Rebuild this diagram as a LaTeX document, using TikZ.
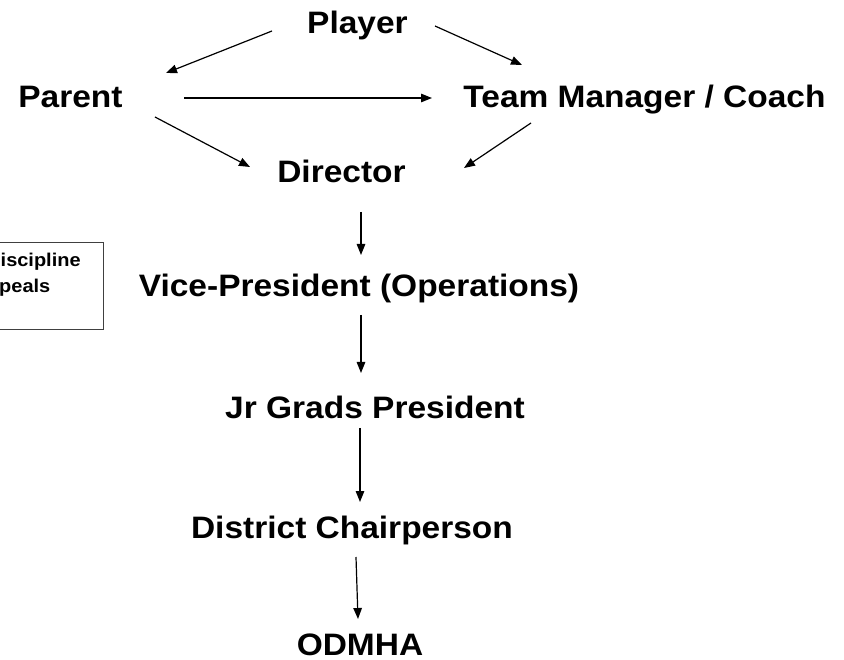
\documentclass[tikz,border=0pt]{standalone}
\usepackage{fontspec}
\setmainfont{Liberation Sans}[FakeStretch=1.08]
\usetikzlibrary{arrows.meta}
\tikzset{
  lbl/.style={anchor=base, inner sep=0pt, font=\fontsize{31}{37}\selectfont\bfseries},
  small/.style={anchor=base west, inner sep=0pt, font=\fontsize{18.5}{22}\selectfont\bfseries},
  conn/.style={line width=1.2pt, -{Triangle[length=11pt,width=8.5pt]}},
  frame/.style={draw=black!75, line width=1pt}
}
\begin{document}
\begin{tikzpicture}[x=1pt,y=-1pt]
\useasboundingbox (0,0) rectangle (844,660);
\clip (0,0) rectangle (844,660);
% text nodes
\node[lbl] (player) at (357.5,34) {Player};
\node[lbl] (parent) at (70.5,108) {Parent};
\node[lbl] (team) at (644.5,108) {Team Manager / Coach};
\node[lbl] (director) at (341.5,183) {Director};
\node[lbl] (vp) at (359,297) {Vice-President (Operations)};
\node[lbl] (jr) at (375,419) {Jr Grads President};
\node[lbl] (district) at (352,538) {District Chairperson};
\node[lbl] (odmha) at (360,655) {ODMHA};
% side box
\draw[frame] (-10,243) rectangle (103,330);
\node[small] (disc1) at (0.5,267) {iscipline};
\node[small] (disc2) at (-1,293) {peals};
% connector end points
\coordinate (a1s) at (272,31);  \coordinate (a1e) at (166,73);
\coordinate (a2s) at (435,26);  \coordinate (a2e) at (522,65);
\coordinate (a3s) at (184,98);  \coordinate (a3e) at (432,98);
\coordinate (a4s) at (155,117); \coordinate (a4e) at (250,167);
\coordinate (a5s) at (531,123); \coordinate (a5e) at (464,168);
\coordinate (a6s) at (361,212); \coordinate (a6e) at (361,255);
\coordinate (a7s) at (361,315); \coordinate (a7e) at (361,373);
\coordinate (a8s) at (360,428); \coordinate (a8e) at (360,502);
\coordinate (a9s) at (356,557); \coordinate (a9e) at (358,619);
% connectors
\draw[conn] (a1s) -- (a1e);
\draw[conn] (a2s) -- (a2e);
\draw[conn] (a3s) -- (a3e);
\draw[conn] (a4s) -- (a4e);
\draw[conn] (a5s) -- (a5e);
\draw[conn] (a6s) -- (a6e);
\draw[conn] (a7s) -- (a7e);
\draw[conn] (a8s) -- (a8e);
\draw[conn] (a9s) -- (a9e);
\end{tikzpicture}
\end{document}
